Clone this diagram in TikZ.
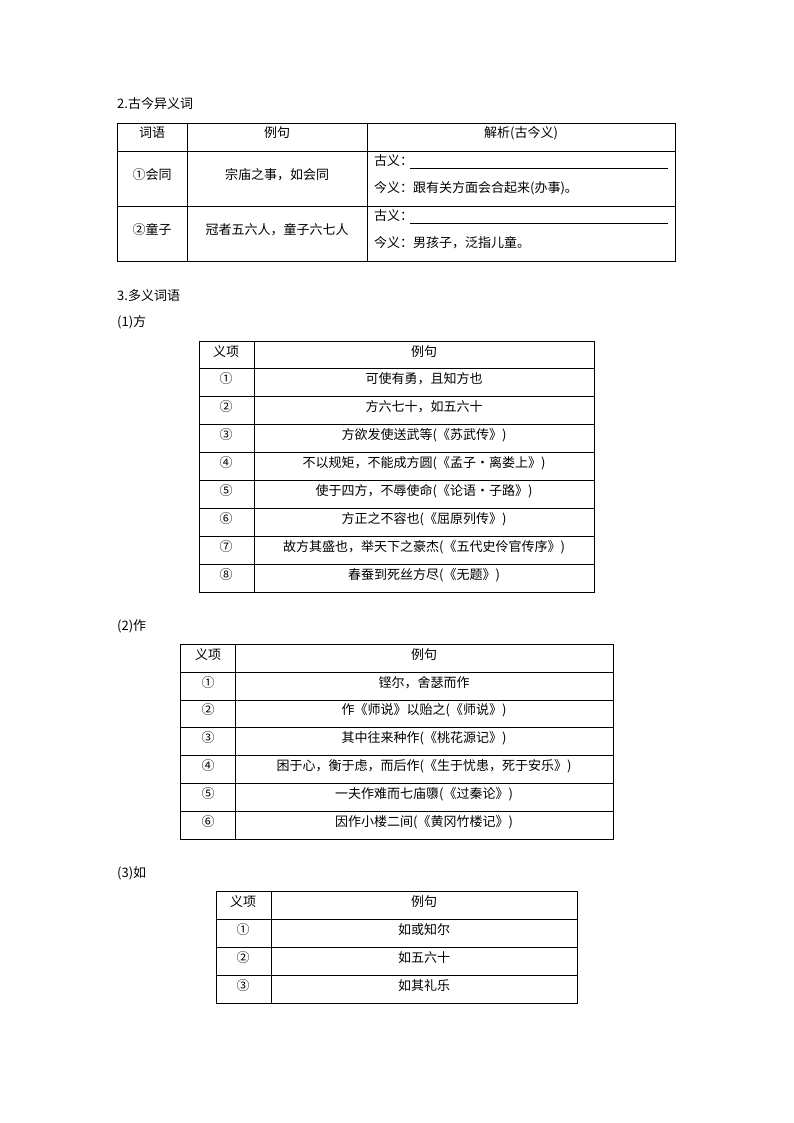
\documentclass[tikz,border=0pt]{standalone}
\usepackage{fontspec}
\setmainfont{Noto Sans CJK SC}
\begin{document}
\begin{tikzpicture}[x=1pt,y=-1pt,font=\fontsize{13}{15}\selectfont,
  ln/.style={line width=0.6pt},
  cell/.style={inner sep=0pt,anchor=center},
  lft/.style={inner sep=0pt,anchor=west}]
\useasboundingbox[fill=white] (0,0) rectangle (794,1123);
% headings
\node[lft] (h1) at (117,104) {2.古今异义词};
\node[lft] (h2) at (117,296) {3.多义词语};
\node[lft] (h3) at (117,322) {(1)方};
\node[lft] (h4) at (117,626) {(2)作};
\node[lft] (h5) at (117,873) {(3)如};
% table 1
\draw[ln] (117,123) rectangle (675,261);
\foreach \y in {151,206} \draw[ln] (117,\y) -- (675,\y);
\foreach \x in {187,367} \draw[ln] (\x,123) -- (\x,261);
\node[cell] (a1) at (152,133) {词语};
\node[cell] (a2) at (277,133) {例句};
\node[cell] (a3) at (521,133) {解析(古今义)};
\node[cell] (b1) at (152,175) {①会同};
\node[cell] (b2) at (277,175) {宗庙之事，如会同};
\node[lft] (b3) at (374,161) {古义：};
\node[lft] (b4) at (374,188) {今义：跟有关方面会合起来(办事)。};
\node[cell] (c1) at (152,230) {②童子};
\node[cell] (c2) at (277,230) {冠者五六人，童子六七人};
\node[lft] (c3) at (374,216) {古义：};
\node[lft] (c4) at (374,243) {今义：男孩子，泛指儿童。};
\draw[ln] (410,168) -- (668,168);
\draw[ln] (410,223) -- (668,223);
% table 2
\draw[ln] (199,341) rectangle (594,592);
\draw[ln] (254,341) -- (254,592);
\foreach \y in {368,396,424,452,480,508,536,564} \draw[ln] (199,\y) -- (594,\y);
\foreach \n/\y/\t in {0/352/义项,1/379/①,2/407/②,3/435/③,4/463/④,5/491/⑤,6/519/⑥,7/547/⑦,8/575/⑧}
  \node[cell] (f\n) at (226,\y) {\t};
\foreach \n/\y/\t in {0/352/例句,1/379/可使有勇，且知方也,2/407/方六七十，如五六十,3/435/方欲发使送武等(《苏武传》),4/463/不以规矩，不能成方圆(《孟子·离娄上》),5/491/使于四方，不辱使命(《论语·子路》),6/519/方正之不容也(《屈原列传》),7/547/故方其盛也，举天下之豪杰(《五代史伶官传序》),8/575/春蚕到死丝方尽(《无题》)}
  \node[cell] (g\n) at (424,\y) {\t};
% table 3
\draw[ln] (180,644) rectangle (613,839);
\draw[ln] (235,644) -- (235,839);
\foreach \y in {672,700,727,755,783,811} \draw[ln] (180,\y) -- (613,\y);
\foreach \n/\y/\t in {0/655/义项,1/683/①,2/710/②,3/738/③,4/766/④,5/794/⑤,6/822/⑥}
  \node[cell] (p\n) at (208,\y) {\t};
\foreach \n/\y/\t in {0/655/例句,1/683/铿尔，舍瑟而作,2/710/作《师说》以贻之(《师说》),3/738/其中往来种作(《桃花源记》),4/766/困于心，衡于虑，而后作(《生于忧患，死于安乐》),5/794/一夫作难而七庙隳(《过秦论》),6/822/因作小楼二间(《黄冈竹楼记》)}
  \node[cell] (q\n) at (424,\y) {\t};
% table 4
\draw[ln] (216,891) rectangle (577,1003);
\draw[ln] (271,891) -- (271,1003);
\foreach \y in {919,947,975} \draw[ln] (216,\y) -- (577,\y);
\foreach \n/\y/\t in {0/902/义项,1/930/①,2/958/②,3/986/③}
  \node[cell] (r\n) at (243,\y) {\t};
\foreach \n/\y/\t in {0/902/例句,1/930/如或知尔,2/958/如五六十,3/986/如其礼乐}
  \node[cell] (s\n) at (424,\y) {\t};
\end{tikzpicture}
\end{document}
